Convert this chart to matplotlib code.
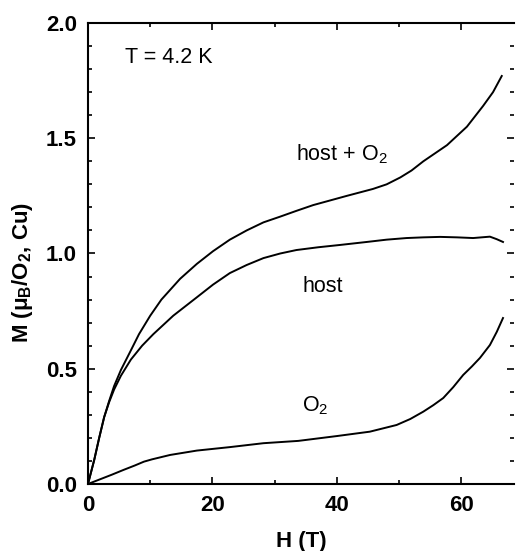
import numpy as np
import matplotlib
matplotlib.use('Agg')
import matplotlib.pyplot as plt
from matplotlib.ticker import MultipleLocator

plt.rcParams['font.family'] = ['Liberation Sans', 'DejaVu Sans']

# host + O2 curve
h_total = [0, 1.0, 1.8, 2.6, 3.4, 4.2, 5.3, 6.9, 8.2, 10, 11.8, 14.8, 17.5, 20.1, 22.8,
           25.5, 28.2, 30.9, 33.5, 36.2, 38.9, 41.6, 43.7, 45.8, 48.0, 50.2, 52.0,
           53.9, 55.8, 57.7, 59.3, 60.9, 62.2, 63.5, 64.3, 65.1, 65.8, 66.5]
m_total = [0, 0.104, 0.20, 0.29, 0.36, 0.425, 0.495, 0.58, 0.65, 0.73, 0.80, 0.89, 0.955,
           1.01, 1.06, 1.10, 1.135, 1.16, 1.185, 1.21, 1.23, 1.25, 1.265, 1.28, 1.30,
           1.33, 1.36, 1.40, 1.435, 1.47, 1.51, 1.55, 1.595, 1.64, 1.67, 1.70, 1.735,
           1.77]

# host curve
h_host = [0, 1.0, 1.8, 2.6, 3.4, 4.2, 5.3, 6.9, 8.7, 10.5, 13.7, 17.5, 20.1, 22.8,
          25.5, 28.2, 30.9, 33.5, 37.0, 40.5, 44.8, 48.0, 51.2, 53.9, 56.6, 59.3,
          61.9, 64.6, 65.7, 66.7]
m_host = [0, 0.104, 0.20, 0.29, 0.355, 0.41, 0.47, 0.54, 0.60, 0.65, 0.73, 0.81, 0.865,
          0.915, 0.95, 0.98, 1.0, 1.015, 1.027, 1.037, 1.05, 1.06, 1.067, 1.07, 1.072,
          1.07, 1.067, 1.073, 1.062, 1.05]

# O2 curve
h_o2 = [0, 1.9, 3.8, 5.7, 7.5, 9.0, 10.3, 13.2, 17.5, 22.8, 28.2, 33.8, 40, 45.3,
        49.6, 51.8, 53.9, 55.5, 57.1, 58.7, 60.3, 61.7, 63, 64.6, 65.7, 66.7]
m_o2 = [0, 0.02, 0.04, 0.061, 0.08, 0.097, 0.107, 0.126, 0.145, 0.16, 0.177, 0.187,
        0.208, 0.227, 0.256, 0.282, 0.314, 0.342, 0.373, 0.42, 0.473, 0.51, 0.547,
        0.603, 0.66, 0.72]

fig = plt.figure(figsize=(5.16, 5.51), dpi=100)
ax = fig.add_axes([0.1705, 0.1216, 0.826, 0.8367])

for hh, mm in [(h_total, m_total), (h_host, m_host), (h_o2, m_o2)]:
    ax.plot(hh, mm, color='black', lw=1.4)

ax.set_xlim(0, 68.5)
ax.set_ylim(0, 2.0)
ax.xaxis.set_major_locator(MultipleLocator(20))
ax.xaxis.set_minor_locator(MultipleLocator(10))
ax.yaxis.set_major_locator(MultipleLocator(0.5))
ax.yaxis.set_minor_locator(MultipleLocator(0.1))
ax.yaxis.set_major_formatter(matplotlib.ticker.FormatStrFormatter('%.1f'))

ax.tick_params(which='both', direction='in', top=True, right=True, width=1.2)
ax.tick_params(which='major', length=5, labelsize=16, pad=8)
ax.tick_params(which='minor', length=3)
for lab in ax.get_xticklabels() + ax.get_yticklabels():
    lab.set_fontweight('bold')
for s in ['left', 'bottom', 'top']:
    ax.spines[s].set_linewidth(1.5)
ax.spines['right'].set_visible(False)

ax.set_xlabel('H (T)', fontsize=16, fontweight='bold')
ax.set_ylabel(r'M ($\mathregular{\mu_B}$/O$_\mathregular{2}$, Cu)', fontsize=16, fontweight='bold')
ax.xaxis.set_label_coords(0.5, -0.103)
ax.yaxis.set_label_coords(-0.125, 0.458)

ax.text(5.9, 1.85, 'T = 4.2 K', fontsize=15.5, va='center', ha='left')
ax.text(33.4, 1.43, r'host + O$_\mathregular{2}$', fontsize=15.5, va='center', ha='left')
ax.text(34.4, 0.855, 'host', fontsize=15.5, va='center', ha='left')
ax.text(34.4, 0.34, r'O$_\mathregular{2}$', fontsize=15.5, va='center', ha='left')

fig.savefig('out.png', dpi=100)
